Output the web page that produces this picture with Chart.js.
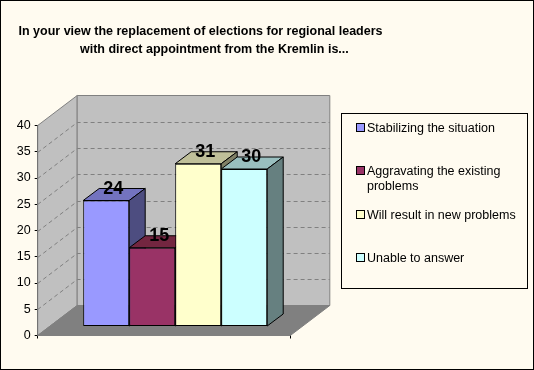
<!DOCTYPE html>
<html>
<head>
<meta charset="utf-8">
<style>
html,body{margin:0;padding:0;background:#fffbf0;}
#wrap{position:relative;width:534px;height:370px;box-sizing:border-box;overflow:hidden;}
canvas{display:block;}
</style>
<script src="https://cdn.jsdelivr.net/npm/chart.js@4/dist/chart.umd.min.js"></script>
</head>
<body>
<div id="wrap"><canvas id="c" width="534" height="370"></canvas></div>
<script>
const seriesNames = ["Stabilizing the situation","Aggravating the existing problems","Will result in new problems","Unable to answer"];
const legendLines = [["Stabilizing the situation"],["Aggravating the existing","problems"],["Will result in new problems"],["Unable to answer"]];
const seriesValues = [24,15,31,30];
const seriesColors = ["#9999ff","#993366","#ffffcc","#ccffff"];
const topColors = ["#7373bf","#732640","#bfbf99","#99bfbf"];
const sideColors = ["#4d4d80","#4d1a33","#808066","#668080"];
const titleLines = ["In your view the replacement of elections for regional leaders","        with direct appointment from the Kremlin is..."];
const categories = [""];
const WALL = {dx:39.5, dy:-30};
const BAR = {dx:16, dy:-12};
const SHIFT = {x:11.2, y:-9};

const FONT = '"Liberation Sans", Arial, sans-serif';

const scene = {
  id:'scene',
  afterLayout(chart){
    const t = chart.titleBlock;
    t.left = 18; t.right = 383; t.top = 3;
  },
  beforeDraw(chart){
    const c = chart.ctx, w = chart.width, h = chart.height;
    c.save();
    c.fillStyle = '#fffbf0'; c.fillRect(0,0,w,h);
    c.strokeStyle = '#000'; c.lineWidth = 1;
    c.strokeRect(0.5,0.5,w-1,h-1);
    c.restore();
  },
  beforeDatasetsDraw(chart){
    const c = chart.ctx, a = chart.chartArea, y = chart.scales.y;
    const L=a.left, R=a.right, T=a.top, B=a.bottom;
    const dx=WALL.dx, dy=WALL.dy;
    c.save();
    c.lineWidth = 1;
    // side wall
    c.fillStyle = '#c0c0c0'; c.strokeStyle = '#808080';
    c.beginPath(); c.moveTo(L,T); c.lineTo(L+dx,T+dy); c.lineTo(L+dx,B+dy); c.lineTo(L,B); c.closePath(); c.fill(); c.stroke();
    // back wall
    c.beginPath(); c.rect(L+dx,T+dy,R-L,B-T); c.fill(); c.stroke();
    // floor
    c.fillStyle = '#808080';
    c.beginPath(); c.moveTo(L,B); c.lineTo(L+dx,B+dy); c.lineTo(R+dx,B+dy); c.lineTo(R,B); c.closePath(); c.fill(); c.stroke();
    // gridlines
    c.setLineDash([4,3]); c.strokeStyle = '#808080';
    y.ticks.forEach(t=>{
      if(t.value===0||t.value===40) return;
      const p = Math.round(y.getPixelForValue(t.value))+0.5;
      c.beginPath(); c.moveTo(L,p); c.lineTo(L+dx,p+dy); c.lineTo(R+dx,p+dy); c.stroke();
    });
    c.setLineDash([]);
    // 3D faces, left to right
    c.translate(SHIFT.x,SHIFT.y);
    c.strokeStyle = '#000';
    seriesValues.forEach((v,i)=>{
      const el = chart.getDatasetMeta(i).data[0];
      const l = el.x-el.width/2, r = el.x+el.width/2, t = el.y, b = el.base;
      c.fillStyle = topColors[i];
      c.beginPath(); c.moveTo(l,t); c.lineTo(l+BAR.dx,t+BAR.dy); c.lineTo(r+BAR.dx,t+BAR.dy); c.lineTo(r,t); c.closePath(); c.fill(); c.stroke();
      c.fillStyle = sideColors[i];
      c.beginPath(); c.moveTo(r,t); c.lineTo(r+BAR.dx,t+BAR.dy); c.lineTo(r+BAR.dx,b+BAR.dy); c.lineTo(r,b); c.closePath(); c.fill(); c.stroke();
    });
    c.restore();
    c.save();
    c.translate(SHIFT.x,SHIFT.y);
  },
  afterDatasetsDraw(chart){
    const c = chart.ctx;
    // value labels, still inside the shifted bar space
    c.fillStyle = '#000'; c.font = 'bold 18px '+FONT;
    c.textAlign = 'center'; c.textBaseline = 'middle';
    seriesValues.forEach((v,i)=>{
      const el = chart.getDatasetMeta(i).data[0];
      c.fillText(String(v), el.x+7, el.y-11.5);
    });
    c.restore();
    // legend box
    c.save();
    c.fillStyle = '#fffbf0'; c.strokeStyle = '#000'; c.lineWidth = 1;
    c.fillRect(341.5,113.5,186,175); c.strokeRect(341.5,113.5,186,175);
    const rows = [128,171,215,258];
    c.font = '12.5px '+FONT; c.textBaseline = 'middle'; c.textAlign = 'left';
    legendLines.forEach((lines,i)=>{
      c.fillStyle = seriesColors[i]; c.strokeStyle = '#000';
      c.fillRect(356.5,rows[i]-4.5,8,8); c.strokeRect(356.5,rows[i]-4.5,8,8);
      c.fillStyle = '#000';
      lines.forEach((s,j)=>c.fillText(s,367,rows[i]+1+j*15));
    });
    c.restore();
  }
};

new Chart(document.getElementById('c'),{
  type:'bar',
  data:{
    labels:categories,
    datasets:seriesValues.map((v,i)=>({
      label:seriesNames[i],
      data:[v],
      backgroundColor:seriesColors[i],
      borderColor:'#000',
      borderWidth:1,
      borderSkipped:false,
      clip:false,
      barPercentage:1,
      categoryPercentage:0.7285
    }))
  },
  options:{
    responsive:false,
    animation:false,
    layout:{padding:{left:0,right:243.7,top:0,bottom:31.5}},
    plugins:{
      legend:{display:false},
      tooltip:{enabled:false},
      title:{
        display:true,
        text:titleLines,
        color:'#000',
        align:'center',
        font:{family:FONT,size:12.5,weight:'bold',lineHeight:1.4},
        padding:{top:20,bottom:70.5}
      }
    },
    scales:{
      x:{
        grid:{display:true,drawOnChartArea:false,color:'#000',tickLength:3},
        border:{display:true,color:'#000'},
        ticks:{display:false}
      },
      y:{
        min:0,max:40,
        afterFit(s){ s.width = 37.7; },
        ticks:{stepSize:5,color:'#000',font:{family:FONT,size:12.5},padding:4},
        grid:{display:true,drawOnChartArea:false,color:'#000',tickLength:3},
        border:{display:true,color:'#000'}
      }
    }
  },
  plugins:[scene]
});
</script>
</body>
</html>
